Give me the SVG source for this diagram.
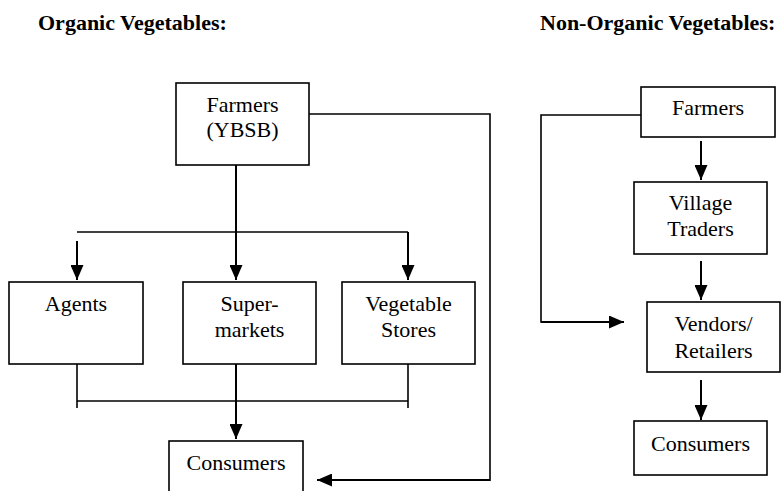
<svg xmlns="http://www.w3.org/2000/svg" width="782" height="491" viewBox="0 0 782 491">
<defs>
<style>
.box{fill:#fff;stroke:#000;stroke-width:1.6}
.t{font-family:'Times New Roman','Liberation Serif',Tinos,'DejaVu Serif',serif;font-size:22px;font-weight:normal;fill:#000;text-anchor:middle}
.h{font-family:'Times New Roman','Liberation Serif',Tinos,'DejaVu Serif',serif;font-size:22px;font-weight:bold;fill:#000}
.ln{fill:none;stroke:#000;stroke-width:1.6}
.ar{fill:none;stroke:#000;stroke-width:2}
</style>
<marker id="ah" markerUnits="userSpaceOnUse" markerWidth="16" markerHeight="13" refX="15" refY="6.5" orient="auto" viewBox="0 0 16 13">
<path d="M0,0 L15,6.5 L0,13 z" fill="#000"/>
</marker>
</defs>
<rect width="782" height="491" fill="#fff"/>
<text class="h" x="38" y="30">Organic Vegetables:</text>
<text class="h" x="540" y="30">Non-Organic Vegetables:</text>

<g id="connectors">
<polyline class="ln" points="309,114 490,114 490,481"/>
<line class="ar" x1="490" y1="480" x2="317" y2="480" marker-end="url(#ah)"/>
<line class="ar" x1="236" y1="162" x2="236" y2="280" marker-end="url(#ah)"/>
<line class="ln" x1="77" y1="232" x2="408" y2="232"/>
<line class="ar" x1="77" y1="241" x2="77" y2="280" marker-end="url(#ah)"/>
<line class="ar" x1="408" y1="232" x2="408" y2="280" marker-end="url(#ah)"/>
<line class="ln" x1="77" y1="361" x2="77" y2="408"/>
<line class="ln" x1="408" y1="361" x2="408" y2="408"/>
<line class="ln" x1="77" y1="401" x2="408" y2="401"/>
<line class="ar" x1="236" y1="361" x2="236" y2="439" marker-end="url(#ah)"/>
<polyline class="ln" points="641,115 541,115 541,322 560,322"/>
<line class="ar" x1="541" y1="322" x2="624" y2="322" marker-end="url(#ah)"/>
<line class="ar" x1="701" y1="141" x2="701" y2="180" marker-end="url(#ah)"/>
<line class="ar" x1="701" y1="261" x2="701" y2="300" marker-end="url(#ah)"/>
<line class="ar" x1="701" y1="380" x2="701" y2="420" marker-end="url(#ah)"/>
</g>

<g id="farmers-ybsb">
<rect class="box" x="176" y="83" width="133" height="82"/>
<text class="t" x="242.5" y="112">Farmers</text>
<text class="t" x="242.5" y="137">(YBSB)</text>
</g>
<g id="agents">
<rect class="box" x="9" y="282" width="134" height="82"/>
<text class="t" x="76" y="311">Agents</text>
</g>
<g id="supermarkets">
<rect class="box" x="183" y="282" width="133" height="82"/>
<text class="t" x="249.5" y="311">Super-</text>
<text class="t" x="249.5" y="337">markets</text>
</g>
<g id="vegetable-stores">
<rect class="box" x="342" y="282" width="133" height="82"/>
<text class="t" x="408.5" y="311">Vegetable</text>
<text class="t" x="408.5" y="337">Stores</text>
</g>
<g id="consumers-organic">
<rect class="box" x="169" y="441" width="134" height="60"/>
<text class="t" x="236" y="470">Consumers</text>
</g>

<g id="farmers">
<rect class="box" x="641" y="87" width="134" height="50"/>
<text class="t" x="708" y="115">Farmers</text>
</g>
<g id="village-traders">
<rect class="box" x="634" y="182" width="133" height="72"/>
<text class="t" x="700.5" y="210">Village</text>
<text class="t" x="700.5" y="236">Traders</text>
</g>
<g id="vendors-retailers">
<rect class="box" x="647" y="302" width="133" height="70"/>
<text class="t" x="713.5" y="331">Vendors/</text>
<text class="t" x="713.5" y="358">Retailers</text>
</g>
<g id="consumers">
<rect class="box" x="634" y="421" width="133" height="54"/>
<text class="t" x="700.5" y="451">Consumers</text>
</g>
</svg>
